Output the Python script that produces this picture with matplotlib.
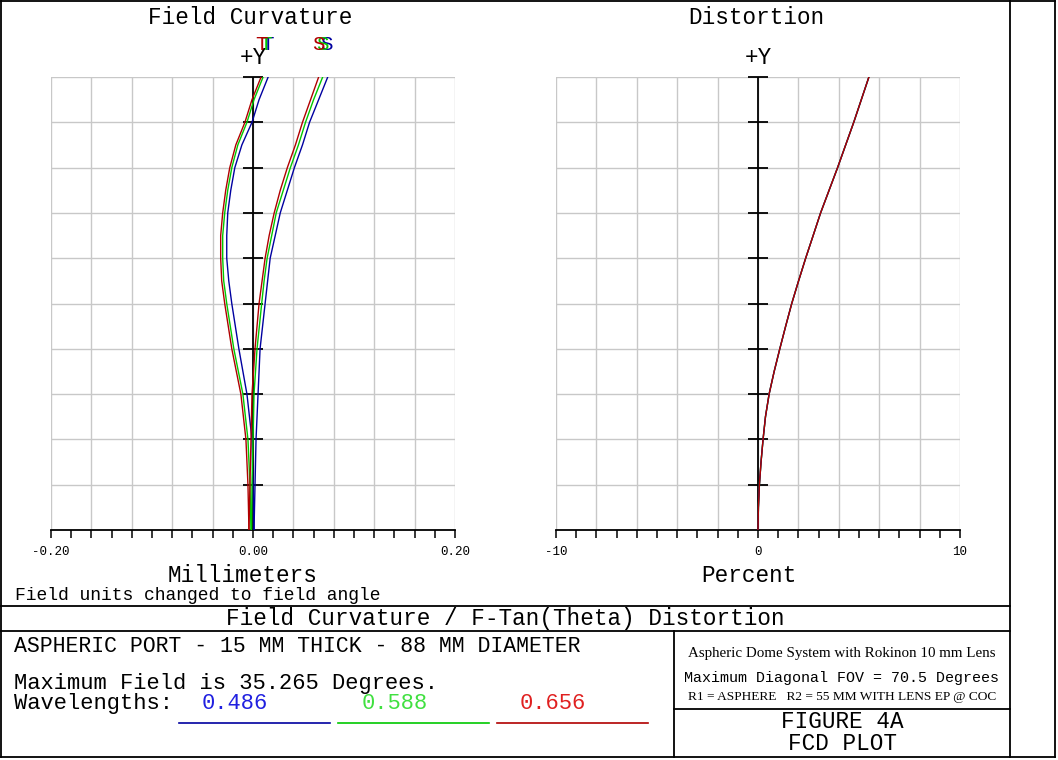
import matplotlib
matplotlib.use("Agg")
import matplotlib.pyplot as plt
from matplotlib.lines import Line2D
from matplotlib.ticker import MultipleLocator, FuncFormatter

# ---- data ----
max_field = 35.265
field_deg = [0.0, 3.53, 7.05, 10.58, 14.11, 17.63, 19.40, 21.16, 22.92, 24.69,
             26.45, 28.21, 29.98, 31.74, 33.50, 35.265]

# tangential / sagittal field curvature (mm) per wavelength
tan_486 = [0.001, 0.000, -0.001, -0.006, -0.014, -0.021, -0.024, -0.026, -0.026, -0.025,
           -0.022, -0.018, -0.011, -0.001, 0.006, 0.015]
tan_588 = [-0.002, -0.003, -0.005, -0.010, -0.019, -0.026, -0.029, -0.030, -0.030, -0.028,
           -0.025, -0.021, -0.015, -0.006, 0.001, 0.010]
tan_656 = [-0.004, -0.005, -0.007, -0.012, -0.021, -0.028, -0.031, -0.032, -0.032, -0.030,
           -0.027, -0.023, -0.017, -0.008, -0.001, 0.008]
sag_486 = [0.001, 0.002, 0.003, 0.005, 0.007, 0.012, 0.0145, 0.017, 0.022, 0.027,
           0.034, 0.041, 0.049, 0.056, 0.065, 0.074]
sag_588 = [-0.0015, -0.001, 0.000, 0.001, 0.004, 0.0086, 0.011, 0.014, 0.0185, 0.023,
           0.030, 0.037, 0.045, 0.052, 0.060, 0.069]
sag_656 = [-0.004, -0.003, -0.002, -0.001, 0.002, 0.006, 0.009, 0.012, 0.016, 0.021,
           0.027, 0.034, 0.042, 0.049, 0.057, 0.065]

# F-Tan(theta) distortion (%)
dist_field = [0.0, 1.76, 3.53, 5.29, 7.05, 8.82, 10.58, 12.34, 14.11, 15.87,
              17.63, 19.40, 21.16, 22.92, 24.69, 28.21, 31.74, 35.265]
dist_pct = [0.0, 0.02, 0.07, 0.15, 0.25, 0.37, 0.55, 0.80, 1.08, 1.37,
            1.67, 2.01, 2.36, 2.73, 3.10, 3.94, 4.74, 5.49]

wavelengths = ["0.486", "0.588", "0.656"]
curve_colors = ["#0000A0", "#00C800", "#B00000"]
text_colors = ["#2020E0", "#40E040", "#E02020"]

W, H = 1058, 760
MONO = "Liberation Mono"
SERIF = "Liberation Serif"
GRID = "#C8C8C8"

fig = plt.figure(figsize=(W / 100, H / 100), dpi=100)
fig.patch.set_facecolor("white")


def fx(x):
    return x / W


def fy(y):
    return 1 - y / H


def hline(y, x0, x1, lw=1.3, color="black"):
    fig.add_artist(Line2D([fx(x0), fx(x1)], [fy(y), fy(y)], transform=fig.transFigure,
                          color=color, lw=lw))


def vline(x, y0, y1, lw=1.3, color="black"):
    fig.add_artist(Line2D([fx(x), fx(x)], [fy(y0), fy(y1)], transform=fig.transFigure,
                          color=color, lw=lw))


def txt(x, y, s, size=16.3, ha="center", va="center", color="black", family=MONO):
    return fig.text(fx(x), fy(y), s, ha=ha, va=va, fontsize=size, color=color,
                    family=family)


def fit_width(t, width_px):
    # scale the font so the text spans the width it has in the reference
    r = fig.canvas.get_renderer()
    w = t.get_window_extent(renderer=r).width
    t.set_fontsize(t.get_fontsize() * width_px / w)


def setup_axes(left, xlim, major, minor, labels):
    ax = fig.add_axes([fx(left), fy(530), 404 / W, 453 / H])
    ax.set_xlim(*xlim)
    ax.set_ylim(0, max_field)
    for side in ("top", "left", "right"):
        ax.spines[side].set_visible(False)
    ax.spines["bottom"].set_color("black")
    ax.spines["bottom"].set_linewidth(1.3)
    ax.xaxis.set_major_locator(MultipleLocator(major))
    ax.xaxis.set_minor_locator(MultipleLocator(minor))
    ax.xaxis.set_major_formatter(FuncFormatter(
        lambda v, p: labels.get(round(v, 3), "")))
    ax.tick_params(axis="x", which="both", direction="out", length=5.5, width=1.1,
                   color="black", labelsize=9, pad=6)
    ax.set_yticks([max_field * i / 10 for i in range(11)])
    ax.tick_params(axis="y", which="both", length=0, labelleft=False)
    ax.grid(True, which="major", color=GRID, lw=1.0)
    ax.set_axisbelow(True)
    # central axis with ticks
    ax.axvline(0, color="black", lw=1.3, zorder=2)
    ax.plot([0] * 10, [max_field * i / 10 for i in range(1, 11)], ls="none",
            marker="_", markersize=15, mew=1.3, color="black", zorder=2, clip_on=False)
    return ax


ax1 = setup_axes(51, (-0.2, 0.2), 0.04, 0.02, {-0.2: "-0.20", 0.0: "0.00", 0.2: "0.20"})
ax2 = setup_axes(556, (-10, 10), 2, 1, {-10: "-10", 0.0: "0", 10: "10"})
fig.canvas.draw()
for ax in (ax1, ax2):
    for lab in ax.get_xticklabels():
        lab.set_family(MONO)

tans = [tan_486, tan_588, tan_656]
sags = [sag_486, sag_588, sag_656]
for t, s, c in zip(tans, sags, curve_colors):
    ax1.plot(t, field_deg, color=c, lw=1.0, zorder=3)
    ax1.plot(s, field_deg, color=c, lw=1.0, zorder=3)

for c in [curve_colors[1], curve_colors[0], curve_colors[2]]:
    ax2.plot(dist_pct, dist_field, color=c, lw=1.0, zorder=3)

# titles and labels
txt(250, 18, "Field Curvature")
txt(756, 18, "Distortion")
txt(253, 57, "+Y")
txt(758, 57, "+Y")
for dx, c in zip([268, 265, 262], [curve_colors[0], curve_colors[1], curve_colors[2]]):
    txt(dx, 45, "T", color=c, size=15)
for dx, c in zip([326, 322, 318], [curve_colors[0], curve_colors[1], curve_colors[2]]):
    txt(dx, 45, "S", color=c, size=15)

txt(243, 576, "Millimeters")
txt(749, 576, "Percent")
txt(15, 595, "Field units changed to field angle", size=13, ha="left")
txt(505, 619, "Field Curvature / F-Tan(Theta) Distortion")
txt(14, 652.5, "ASPHERIC PORT - 15 MM THICK - 88 MM DIAMETER", size=15.5, ha="left",
    va="baseline")
txt(14, 689, "Maximum Field is 35.265 Degrees.", size=15.9, ha="left", va="baseline")
txt(14, 709, "Wavelengths:", size=15.9, ha="left", va="baseline")
for xc, w, c in zip([235, 395, 553], wavelengths, text_colors):
    txt(xc, 709, w, size=15.9, color=c, va="baseline")
for (x0, x1), c in zip([(179, 330), (338, 489), (497, 648)], curve_colors):
    hline(723, x0, x1, lw=1.2, color=c)

t_title = txt(842, 653, "Aspheric Dome System with Rokinon 10 mm Lens", size=14, family=SERIF)
txt(841, 678, "Maximum Diagonal FOV = 70.5 Degrees", size=10.8)
t_r = txt(842, 697, "R1 = ASPHERE   R2 = 55 MM WITH LENS EP @ COC", size=11, family=SERIF)
fit_width(t_title, 310)
fit_width(t_r, 308)
txt(842, 722, "FIGURE 4A")
txt(842, 744, "FCD PLOT")

# frame lines
hline(1, 1, 1055)
hline(757, 1, 1055)
vline(1, 1, 757)
vline(1055, 1, 757)
vline(1010, 1, 757)
hline(606, 1, 1010)
hline(631, 1, 1010)
vline(674, 631, 757)
hline(709, 674, 1010)

fig.savefig("out.png", dpi=100)
